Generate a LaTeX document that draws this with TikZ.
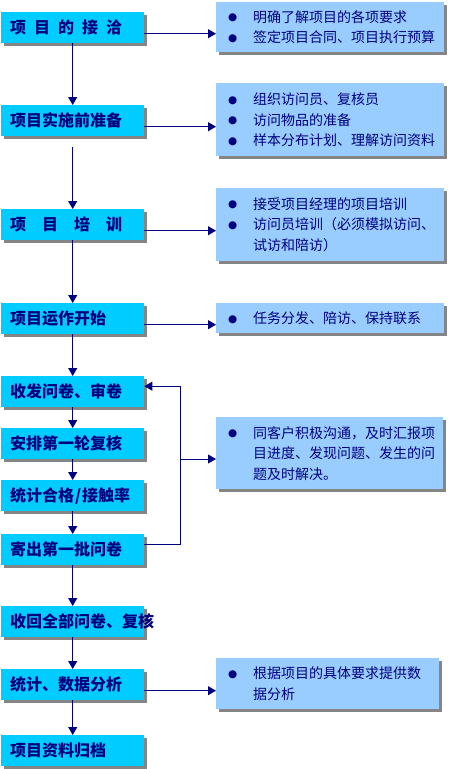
\documentclass[tikz,border=0pt]{standalone}
\usepackage{fontspec}
\setmainfont{Noto Sans CJK SC}
\newfontfamily\dejavu{DejaVu Sans}
\usetikzlibrary{arrows.meta,shadows}
\definecolor{navy}{HTML}{000080}
\definecolor{lcyan}{HTML}{00CCFF}
\definecolor{lblue}{HTML}{99CCFF}
\definecolor{shadowgray}{HTML}{858585}
\newcommand{\bul}{\makebox[25pt][l]{\raisebox{1.5pt}{\dejavu\fontsize{10.5}{10}\selectfont ●}}}
\newcommand{\cont}{\hspace*{25pt}}
\begin{document}
\begin{tikzpicture}[x=1pt,y=-1pt,
  shd/.style={drop shadow={shadow xshift=3pt,shadow yshift=-3pt,fill=shadowgray,opacity=1}},
  lbox/.style={shd,fill=lcyan,anchor=north west,minimum height=31pt,inner xsep=9pt,inner ysep=0pt,
    text width=125pt,align=left,font=\fontsize{16}{18}\selectfont\bfseries,text=navy},
  rbox/.style={shd,fill=lblue,anchor=north west,inner xsep=12pt,inner ysep=0pt,
    text width=204pt,align=left,font=\fontsize{14}{20.5}\selectfont,text=navy},
  arr/.style={draw=navy,line width=1pt,-{Triangle[length=8pt,width=9pt]}},
  ln/.style={draw=navy,line width=1pt}]
\fill[white] (0,0) rectangle (448,769);
\useasboundingbox (0,0) rectangle (448,769);
% left boxes
\node[lbox] (l1) at (1,12) {项\hspace{0.5em}目\hspace{0.5em}的\hspace{0.5em}接\hspace{0.5em}洽};
\node[lbox] (l2) at (1,105) {项目实施前准备};
\node[lbox] (l3) at (1,209) {项\hspace{1em}目\hspace{1em}培\hspace{1em}训};
\node[lbox] (l4) at (1,303) {项目运作开始};
\node[lbox] (l5) at (1,376) {收发问卷、审卷};
\node[lbox] (l6) at (1,428) {安排第一轮复核};
\node[lbox] (l7) at (1,480) {统计合格\makebox[0.5em]{/}接触率};
\node[lbox] (l8) at (1,534) {寄出第一批问卷};
\node[lbox] (l9) at (1,606) {收回全部问卷、复核};
\node[lbox] (l10) at (1,669) {统计、数据分析};
\node[lbox] (l11) at (1,735) {项目资料归档};
% right boxes
\node[rbox,minimum height=50pt] (r1) at (216,2) {\bul 明确了解项目的各项要求\\\bul 签定项目合同、项目执行预算};
\node[rbox,minimum height=73pt] (r2) at (216,83) {\bul 组织访问员、复核员\\\bul 访问物品的准备\\\bul 样本分布计划、理解访问资料};
\node[rbox,minimum height=73pt] (r3) at (216,188) {\bul 接受项目经理的项目培训\\\bul 访问员培训（必须模拟访问、\\\cont 试访和陪访）};
\node[rbox,minimum height=30pt] (r4) at (216,303) {\bul 任务分发、陪访、保持联系};
\node[rbox,minimum height=72pt,text width=203pt] (r5) at (216,417) {\bul 同客户积极沟通，及时汇报项\\\cont 目进度、发现问题、发生的问\\\cont 题及时解决。};
\node[rbox,minimum height=51pt,text width=199pt] (r6) at (216,658) {\bul 根据项目的具体要求提供数\\\cont 据分析};
% vertical flow
\draw[arr] (l1) -- (l2);
\draw[arr,shorten <=11pt] (l2) -- (l3);
\draw[arr] (l3) -- (l4);
\draw[arr] (l4) -- (l5);
\draw[arr] (l5) -- (l6);
\draw[arr] (l6) -- (l7);
\draw[arr] (l7) -- (l8);
\draw[arr] (l8) -- (l9);
\draw[arr] (l9) -- (l10);
\draw[arr] (l10) -- (l11);
% horizontal arrows
\draw[arr,transform canvas={yshift=-6pt}] (l1.east) -- (l1.east -| r1.west);
\draw[arr,transform canvas={yshift=-6pt}] (l2.east) -- (l2.east -| r2.west);
\draw[arr,transform canvas={yshift=-6pt}] (l3.east) -- (l3.east -| r3.west);
\draw[arr,transform canvas={yshift=-6pt}] (l4.east) -- (l4.east -| r4.west);
\draw[arr,transform canvas={yshift=-6pt}] (l10.east) -- (l10.east -| r6.west);
% feedback loop
\coordinate (fb) at (180,0);
\coordinate (br) at (180,459);
\draw[arr,transform canvas={yshift=5.5pt}] (l8.east) -- (l8.east -| fb) -- (l5.east -| fb) -- (l5.east);
\draw[arr] (br) -- (br -| r5.west);
\end{tikzpicture}
\end{document}
